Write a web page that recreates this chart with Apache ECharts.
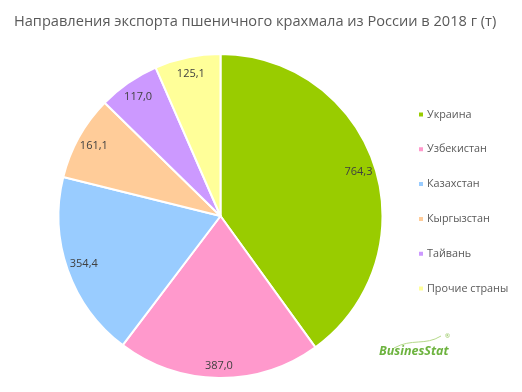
<!DOCTYPE html>
<html><head><meta charset="utf-8">
<script src="https://cdn.jsdelivr.net/npm/echarts@6/dist/echarts.min.js"></script>
<style>html,body{margin:0;padding:0;background:#fff}#c{width:522px;height:392px}</style>
</head><body><div id="c"></div>
<script>
var titleText = 'Направления экспорта пшеничного крахмала из России в 2018 г (т)';
var categories = ['Украина', 'Узбекистан', 'Казахстан', 'Кыргызстан', 'Тайвань', 'Прочие страны'];
var values = [764.3, 387.0, 354.4, 161.1, 117.0, 125.1];
var colors = ['#99CC00', '#FF99CC', '#99CCFF', '#FFCC99', '#CC99FF', '#FFFF99'];

var chart = echarts.init(document.getElementById('c'));
var data = categories.map(function (n, i) { return { name: n, value: values[i] }; });
var labelData = categories.map(function (n, i) {
  var d = { name: n, value: values[i] };
  if (i === 1) d.label = { offset: [0, 5] };
  return d;
});
var fmt = function (p) { return p.value.toFixed(1).replace('.', ','); };
chart.setOption({
  animation: false,
  color: colors,
  title: {
    text: titleText, left: 9, top: 9,
    textStyle: { fontFamily: 'Open Sans', fontSize: 14.6, fontWeight: 'normal', color: '#595959' }
  },
  legend: {
    orient: 'vertical', left: 412, top: 104, itemGap: 23.8,
    itemWidth: 6, itemHeight: 6, icon: 'rect',
    data: categories,
    textStyle: { fontFamily: 'Open Sans', fontSize: 10.8, color: '#595959', padding: [0, 0, 0, -2] }
  },
  graphic: [{
    type: 'bezierCurve', silent: true,
    shape: { x1: 394, y1: 348, cpx1: 412, cpy1: 338, cpx2: 425, cpy2: 346, x2: 441, y2: 336 },
    style: { stroke: '#B5D98A', lineWidth: 1, fill: null }
  }, {
    type: 'text', left: 379, top: 345,
    style: { text: 'BusinesStat', fill: '#6DB33F', font: 'italic bold 12.5px "Open Sans"' }
  }, {
    type: 'text', left: 445, top: 333,
    style: { text: '®', fill: '#8CC152', font: '6px "Open Sans"' }
  }],
  series: [{
    type: 'pie', center: [220.5, 216], radius: [0, 162],
    startAngle: 90, clockwise: true, silent: true,
    itemStyle: { borderColor: '#fff', borderWidth: 2 },
    label: { show: false }, labelLine: { show: false },
    data: data
  }, {
    type: 'pie', center: [220.5, 216], radius: [122, 162],
    startAngle: 90, clockwise: true, silent: true,
    itemStyle: { color: 'rgba(0,0,0,0)', borderWidth: 0 },
    label: { show: true, position: 'inside', formatter: fmt, fontFamily: 'Open Sans', fontSize: 11, color: '#404040' },
    labelLine: { show: false },
    legendHoverLink: false,
    data: labelData
  }]
});
</script></body></html>
